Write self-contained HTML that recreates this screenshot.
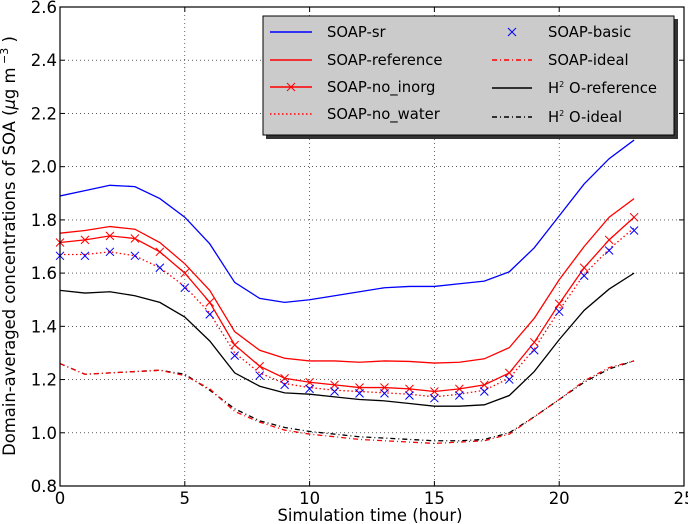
<!DOCTYPE html>
<html><head><meta charset="utf-8"><style>
body{margin:0;background:#fff}
svg{display:block;font-family:"DejaVu Sans","Liberation Sans",sans-serif}
</style></head><body>
<svg id="c" width="688" height="524"></svg>
<script>
const hours=[0,1,2,3,4,5,6,7,8,9,10,11,12,13,14,15,16,17,18,19,20,21,22,23];
const soapSr=[1.89,1.91,1.93,1.925,1.88,1.81,1.71,1.565,1.505,1.49,1.50,1.515,1.53,1.545,1.55,1.55,1.56,1.57,1.605,1.695,1.815,1.935,2.03,2.10];
const soapRef=[1.75,1.76,1.775,1.765,1.715,1.635,1.535,1.38,1.31,1.28,1.27,1.27,1.265,1.27,1.268,1.262,1.265,1.278,1.32,1.43,1.575,1.70,1.81,1.88];
const soapNoInorg=[1.715,1.725,1.74,1.73,1.68,1.60,1.49,1.33,1.25,1.205,1.19,1.18,1.17,1.17,1.165,1.155,1.165,1.18,1.225,1.34,1.485,1.62,1.725,1.81];
const soapNoWater=[1.67,1.67,1.68,1.665,1.62,1.55,1.45,1.30,1.225,1.185,1.17,1.16,1.155,1.15,1.145,1.135,1.145,1.16,1.205,1.315,1.46,1.595,1.69,1.77];
const soapBasic=[1.665,1.665,1.68,1.665,1.62,1.545,1.445,1.29,1.215,1.18,1.165,1.155,1.148,1.148,1.14,1.13,1.14,1.155,1.20,1.31,1.455,1.59,1.685,1.76];
const soapIdeal=[1.26,1.22,1.225,1.23,1.235,1.215,1.165,1.08,1.04,1.01,0.995,0.985,0.975,0.97,0.965,0.96,0.965,0.97,0.995,1.06,1.125,1.195,1.245,1.27];
const h2oRef=[1.535,1.525,1.53,1.515,1.49,1.435,1.345,1.225,1.175,1.15,1.145,1.135,1.125,1.12,1.11,1.10,1.10,1.105,1.14,1.23,1.35,1.46,1.54,1.60];
const h2oIdeal=[1.26,1.22,1.225,1.23,1.235,1.22,1.16,1.09,1.045,1.02,1.005,0.995,0.985,0.98,0.975,0.97,0.97,0.975,1.0,1.06,1.125,1.19,1.24,1.27];
const xTicks=[0,5,10,15,20,25];
const yTicks=[0.8,1.0,1.2,1.4,1.6,1.8,2.0,2.2,2.4,2.6];

const L=60,R=684,T=7,B=486;
const X=v=>L+(v-0)/(25-0)*(R-L);
const Y=v=>B-(v-0.8)/(2.6-0.8)*(B-T);
const svg=document.getElementById('c');
const NS='http://www.w3.org/2000/svg';
function mk(tag,attrs,parent){const e=document.createElementNS(NS,tag);for(const k in attrs)e.setAttribute(k,attrs[k]);(parent||svg).appendChild(e);return e;}

xTicks.forEach(t=>{if(t>0&&t<25){const g=mk('line',{x1:X(t),x2:X(t),y1:T,y2:B,stroke:'#000','stroke-width':0.6,'stroke-dasharray':'1,3'});

}});
yTicks.forEach(t=>{if(t>0.81&&t<2.59){const g=mk('line',{x1:L,x2:R,y1:Y(t),y2:Y(t),stroke:'#000','stroke-width':0.6,'stroke-dasharray':'1,3'});

}});

function line(data,color,dash,name,w){
  const p=mk('polyline',{points:data.map((v,i)=>X(hours[i])+','+Y(v)).join(' '),fill:'none',stroke:color,'stroke-width':w||1.3,'stroke-dasharray':dash||'none'});
  
  
}
function markers(data,color,name){
  data.forEach((v,i)=>{const x=X(hours[i]),y=Y(v),s=4;
    const m=mk('path',{d:`M${x-s},${y-s}L${x+s},${y+s}M${x-s},${y+s}L${x+s},${y-s}`,stroke:color,'stroke-width':1});
    
    });
}
line(h2oIdeal,'#000','5,3,1,3','h2o-ideal-line');
line(soapIdeal,'#f00','5,3,1,3','soap-ideal-line');
line(h2oRef,'#000','','h2o-reference-line');
line(soapNoWater,'#f00','1.5,2.5','soap-no-water-line');
line(soapNoInorg,'#f00','','soap-no-inorg-line');
markers(soapNoInorg,'#f00','soap-no-inorg-marker');
markers(soapBasic,'#00f','soap-basic-marker');
line(soapRef,'#f00','','soap-reference-line');
line(soapSr,'#00f','','soap-sr-line');

const fr=mk('rect',{x:L,y:T,width:R-L,height:B-T,fill:'none',stroke:'#000','stroke-width':1.2});


xTicks.forEach(t=>{mk('line',{x1:X(t),x2:X(t),y1:B,y2:B-5,stroke:'#000'});mk('line',{x1:X(t),x2:X(t),y1:T,y2:T+5,stroke:'#000'});
  const tx=mk('text',{x:X(t),y:B+18,'text-anchor':'middle','font-size':16.5});tx.textContent=t;
  
  });
yTicks.forEach(t=>{mk('line',{x1:L,x2:L+5,y1:Y(t),y2:Y(t),stroke:'#000'});mk('line',{x1:R,x2:R-5,y1:Y(t),y2:Y(t),stroke:'#000'});
  const tx=mk('text',{x:L-3,y:Y(t)+6,'text-anchor':'end','font-size':16.5});tx.textContent=t.toFixed(1);
  
  });
</script>
<svg width="688" height="524" style="position:absolute;left:0;top:0;font-family:'DejaVu Sans','Liberation Sans',sans-serif">
<text x="370" y="521" text-anchor="middle" font-size="16.4">Simulation time (hour)</text>
<text transform="translate(15,246) rotate(-90)" text-anchor="middle" font-size="16.4">Domain-averaged concentrations of SOA (<tspan font-style="italic">μ</tspan>g m<tspan dy="-7" font-size="11">  −3</tspan><tspan dy="7"> )</tspan></text>
<g font-size="14.8">
<rect x="266" y="19" width="412" height="120" fill="#333"/>
<rect x="263" y="16" width="411" height="119" fill="#cbcbcb" stroke="#000" stroke-width="1"/>
<line x1="270" y1="32" x2="312" y2="32" stroke="#00f" stroke-width="1.5"/><text x="327" y="37">SOAP-sr</text>
<line x1="270" y1="60" x2="312" y2="60" stroke="#f00" stroke-width="1.5"/><text x="327" y="65">SOAP-reference</text>
<line x1="270" y1="87" x2="312" y2="87" stroke="#f00" stroke-width="1.5"/><path d="M287,83L295,91M287,91L295,83" stroke="#f00"/><text x="327" y="92">SOAP-no_inorg</text>
<line x1="270" y1="114" x2="312" y2="114" stroke="#f00" stroke-width="1.5" stroke-dasharray="1.5,2.5"/><text x="327" y="119">SOAP-no_water</text>
<path d="M508,28L516,36M508,36L516,28" stroke="#00f"/><text x="548" y="37">SOAP-basic</text>
<line x1="492" y1="60" x2="532" y2="60" stroke="#f00" stroke-width="1.5" stroke-dasharray="5,3,1,3"/><text x="548" y="65">SOAP-ideal</text>
<line x1="492" y1="88" x2="532" y2="88" stroke="#000" stroke-width="1.5"/><text x="548" y="93">H<tspan dy="-6" font-size="8">2</tspan><tspan dy="6"> O-reference</tspan></text>
<line x1="492" y1="117" x2="532" y2="117" stroke="#000" stroke-width="1.5" stroke-dasharray="5,3,1,3"/><text x="548" y="122">H<tspan dy="-6" font-size="8">2</tspan><tspan dy="6"> O-ideal</tspan></text>
</g>
</svg>
</body></html>
